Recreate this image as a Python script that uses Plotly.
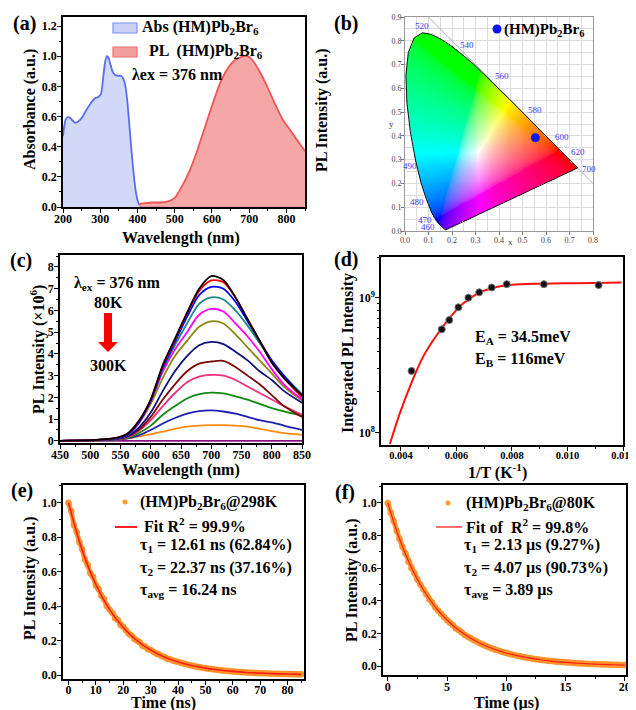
import numpy as np
import plotly.graph_objects as go

# reference-picture coordinates are used throughout; the page body adds an 8 px margin
W, H = 636, 710
OFF = 8
FW, FH = W - OFF, H - OFF
SERIF = "Liberation Serif"

# ---------------- data: panel (a) ----------------
ABS_WL = [200, 203, 207, 212, 216, 220, 225, 232, 240, 250, 262, 275, 285, 295, 302, 308, 313, 318, 322,
          327, 333, 340, 348, 356, 362, 367, 372, 377, 382, 387, 392, 397, 402, 408, 420, 440, 470]
ABS_VAL = [0.47, 0.53, 0.58, 0.595, 0.595, 0.59, 0.575, 0.56, 0.565, 0.59, 0.64, 0.69, 0.72, 0.73, 0.75,
           0.86, 0.96, 1.0, 0.99, 0.95, 0.9, 0.875, 0.87, 0.87, 0.85, 0.81, 0.72, 0.58, 0.43, 0.29, 0.17,
           0.08, 0.03, 0.005, 0.0, 0.0, 0.0]
PL_WL = [405, 420, 440, 460, 480, 500, 520, 540, 560, 580, 600, 620, 640, 660, 680, 695, 710, 730, 750,
         770, 790, 810, 830, 850]
PL_VAL = [0.02, 0.025, 0.03, 0.03, 0.035, 0.06, 0.14, 0.24, 0.37, 0.52, 0.67, 0.81, 0.91, 0.97, 0.995,
          1.0, 0.97, 0.89, 0.79, 0.68, 0.58, 0.51, 0.44, 0.37]

# ---------------- data: panel (b) CIE 1931 ----------------
LOCUS_WL = [380, 385, 390, 395, 400, 405, 410, 415, 420, 425, 430, 435, 440, 445, 450, 455, 460, 465, 470,
            475, 480, 485, 490, 495, 500, 505, 510, 515, 520, 525, 530, 535, 540, 545, 550, 555, 560, 565,
            570, 575, 580, 585, 590, 595, 600, 605, 610, 615, 620, 625, 630, 635, 640, 645, 650, 660, 670,
            680, 700]
LOCUS_X = [0.1741, 0.1740, 0.1738, 0.1736, 0.1733, 0.1730, 0.1726, 0.1721, 0.1714, 0.1703, 0.1689, 0.1669,
           0.1644, 0.1611, 0.1566, 0.1510, 0.1440, 0.1355, 0.1241, 0.1096, 0.0913, 0.0687, 0.0454, 0.0235,
           0.0082, 0.0039, 0.0139, 0.0389, 0.0743, 0.1142, 0.1547, 0.1929, 0.2296, 0.2658, 0.3016, 0.3373,
           0.3731, 0.4087, 0.4441, 0.4788, 0.5125, 0.5448, 0.5752, 0.6029, 0.6270, 0.6482, 0.6658, 0.6801,
           0.6915, 0.7006, 0.7079, 0.7140, 0.7190, 0.7230, 0.7260, 0.7300, 0.7320, 0.7334, 0.7347]
LOCUS_Y = [0.0050, 0.0050, 0.0049, 0.0049, 0.0048, 0.0048, 0.0048, 0.0048, 0.0051, 0.0058, 0.0069, 0.0086,
           0.0109, 0.0138, 0.0177, 0.0227, 0.0297, 0.0399, 0.0578, 0.0868, 0.1327, 0.2007, 0.2950, 0.4127,
           0.5384, 0.6548, 0.7502, 0.8120, 0.8338, 0.8262, 0.8059, 0.7816, 0.7543, 0.7243, 0.6923, 0.6589,
           0.6245, 0.5896, 0.5547, 0.5202, 0.4866, 0.4544, 0.4242, 0.3965, 0.3725, 0.3514, 0.3340, 0.3197,
           0.3083, 0.2993, 0.2920, 0.2859, 0.2809, 0.2770, 0.2740, 0.2700, 0.2680, 0.2666, 0.2653]
WL_LABELS = ["520", "540", "560", "580", "600", "620", "700", "500", "490", "480", "470", "460", "380"]
WL_LABEL_X = [0.071, 0.263, 0.412, 0.555, 0.670, 0.735, 0.785, -0.038, 0.021, 0.050, 0.085, 0.099, 0.217]
WL_LABEL_Y = [0.862, 0.782, 0.652, 0.509, 0.394, 0.331, 0.260, 0.534, 0.275, 0.120, 0.046, 0.016, -0.004]
DIAG_X = [0.1, 0.8]
DIAG_Y = [0.9, 0.2]
CIE_PT_X = [0.555]
CIE_PT_Y = [0.392]

# ---------------- data: panel (c) ----------------
C_WL = [450, 500, 540, 560, 580, 600, 620, 640, 660, 680, 700, 720, 740, 760, 780, 800, 820, 850]
C_S1 = [0, 0.03, 0.12, 0.3, 0.9, 1.9, 3.5, 4.7, 5.9, 7.0, 7.58, 7.4, 6.6, 5.6, 4.6, 3.6, 2.9, 2.1]
C_S2 = [0, 0.03, 0.12, 0.3, 0.9, 1.9, 3.45, 4.65, 5.85, 6.9, 7.38, 7.3, 6.6, 5.6, 4.6, 3.6, 2.9, 2.0]
C_S3 = [0, 0.03, 0.1, 0.25, 0.85, 1.85, 3.35, 4.55, 5.7, 6.7, 7.08, 7.0, 6.4, 5.5, 4.6, 3.7, 3.0, 2.05]
C_S4 = [0, 0.03, 0.1, 0.25, 0.85, 1.85, 3.3, 4.4, 5.4, 6.3, 6.6, 6.5, 6.0, 5.3, 4.5, 3.7, 3.0, 2.15]
C_S5 = [0, 0.03, 0.1, 0.25, 0.8, 1.8, 3.2, 4.2, 5.0, 5.8, 6.07, 5.95, 5.4, 4.8, 4.1, 3.3, 2.6, 1.9]
C_S6 = [0, 0.03, 0.1, 0.25, 0.8, 1.7, 2.9, 3.9, 4.6, 5.25, 5.5, 5.4, 4.9, 4.3, 3.7, 3.1, 2.5, 1.85]
C_S7 = [0, 0.02, 0.08, 0.2, 0.6, 1.3, 2.3, 3.2, 3.9, 4.4, 4.55, 4.45, 4.1, 3.7, 3.2, 2.8, 2.3, 1.75]
C_S8 = [0, 0.02, 0.08, 0.18, 0.5, 1.1, 1.9, 2.6, 3.2, 3.55, 3.65, 3.68, 3.4, 3.0, 2.6, 2.1, 1.6, 1.1]
C_S9 = [0, 0.02, 0.08, 0.15, 0.45, 0.95, 1.6, 2.2, 2.7, 2.95, 3.03, 3.0, 2.8, 2.5, 2.2, 1.9, 1.6, 1.2]
C_S10 = [0, 0.02, 0.06, 0.12, 0.35, 0.7, 1.2, 1.6, 1.95, 2.15, 2.22, 2.18, 2.05, 1.9, 1.7, 1.5, 1.35, 1.15]
C_S11 = [0, 0.02, 0.05, 0.1, 0.25, 0.5, 0.8, 1.05, 1.25, 1.37, 1.4, 1.35, 1.25, 1.1, 0.95, 0.85, 0.7, 0.5]
C_S12 = [0, 0.02, 0.05, 0.1, 0.2, 0.3, 0.42, 0.55, 0.65, 0.7, 0.72, 0.72, 0.7, 0.65, 0.55, 0.45, 0.35, 0.28]
C_S13 = [0] * 18
C_SERIES = [C_S1, C_S2, C_S3, C_S4, C_S5, C_S6, C_S7, C_S8, C_S9, C_S10, C_S11, C_S12, C_S13]
C_COLORS = ["#000000", "#ff0000", "#0000ff", "#1a8a8a", "#ff00ff", "#8a8a10", "#10107a", "#7a0a0a",
            "#f0307a", "#108a10", "#2020b0", "#ff8a10", "#8a108a"]

# ---------------- data: panel (d) ----------------
D_X = [0.00438, 0.00547, 0.00574, 0.00607, 0.00643, 0.00682, 0.00727, 0.00781, 0.00915, 0.01112]
D_Y = [2.86e8, 5.82e8, 6.82e8, 8.49e8, 1.0e9, 1.096e9, 1.19e9, 1.26e9, 1.26e9, 1.24e9]
D_FIT_X = [0.00360, 0.00396, 0.00432, 0.00480, 0.00529, 0.00577, 0.00625, 0.00673, 0.00733, 0.00793,
           0.00913, 0.01033, 0.01195]
D_FIT_Y = [8.2e7, 1.39e8, 2.18e8, 3.65e8, 5.28e8, 7.14e8, 9.08e8, 1.064e9, 1.186e9, 1.242e9, 1.27e9,
           1.28e9, 1.294e9]

# ---------------- data: panel (e) ----------------
E_T = list(range(0, 86))
E_VAL = [1.00, 0.95, 0.87, 0.83, 0.77, 0.73, 0.67, 0.64, 0.59, 0.57, 0.52, 0.50, 0.46, 0.44, 0.40, 0.38,
         0.36, 0.33, 0.32, 0.29, 0.28, 0.26, 0.24, 0.23, 0.21, 0.20, 0.19, 0.17, 0.165, 0.15, 0.145, 0.135,
         0.125, 0.12, 0.11, 0.105, 0.095, 0.092, 0.085, 0.08, 0.077, 0.071, 0.067, 0.063, 0.058, 0.055,
         0.051, 0.048, 0.045, 0.042, 0.040, 0.037, 0.035, 0.033, 0.031, 0.029, 0.027, 0.025, 0.024, 0.022,
         0.021, 0.019, 0.018, 0.017, 0.016, 0.015, 0.014, 0.013, 0.012, 0.012, 0.011, 0.010, 0.010, 0.009,
         0.008, 0.008, 0.007, 0.007, 0.006, 0.006, 0.006, 0.005, 0.005, 0.005, 0.004, 0.004]
E_FIT_T = [0, 5, 10, 15, 20, 25, 30, 35, 40, 45, 50, 55, 60, 65, 70, 75, 80, 85]
E_FIT_VAL = [1.0, 0.725, 0.525, 0.38, 0.276, 0.20, 0.145, 0.105, 0.076, 0.055, 0.040, 0.029, 0.021, 0.015,
             0.011, 0.008, 0.006, 0.004]

# ---------------- data: panel (f) ----------------
F_T = [i * 0.25 for i in range(81)]
F_VAL = [1.00, 0.94, 0.89, 0.83, 0.78, 0.73, 0.69, 0.64, 0.60, 0.57, 0.53, 0.50, 0.47, 0.44, 0.41, 0.39,
         0.36, 0.34, 0.32, 0.30, 0.28, 0.265, 0.25, 0.23, 0.22, 0.205, 0.19, 0.18, 0.17, 0.16, 0.15, 0.14,
         0.132, 0.124, 0.116, 0.109, 0.102, 0.096, 0.09, 0.085, 0.08, 0.075, 0.07, 0.066, 0.062, 0.058,
         0.054, 0.051, 0.048, 0.045, 0.042, 0.040, 0.037, 0.035, 0.033, 0.031, 0.029, 0.027, 0.025, 0.024,
         0.022, 0.021, 0.020, 0.018, 0.017, 0.016, 0.015, 0.014, 0.013, 0.013, 0.012, 0.011, 0.010, 0.010,
         0.009, 0.009, 0.008, 0.008, 0.007, 0.007, 0.006]
F_FIT_T = list(range(0, 21))
F_FIT_VAL = [1.0, 0.777, 0.603, 0.468, 0.363, 0.282, 0.219, 0.170, 0.132, 0.103, 0.080, 0.062, 0.048,
             0.037, 0.029, 0.022, 0.017, 0.013, 0.010, 0.008, 0.006]


def PX(x):
    return (x - OFF) / FW


def PY(y):
    return 1 - (y - OFF) / FH


def dom_x(a, b):
    return [PX(a), PX(b)]


def dom_y(top, bottom):
    return [PY(bottom), PY(top)]


def axis(domain, rng, dtick, mdtick, anchor, tick0=0, fmt=None, size=12, standoff=-2, **kw):
    d = dict(domain=domain, range=rng, dtick=dtick, tick0=tick0, showline=True, linecolor="black",
             linewidth=1.5, mirror=True, ticks="outside", ticklen=4, tickwidth=1.2, tickcolor="black",
             minor=dict(ticks="outside", ticklen=2, dtick=mdtick, tickcolor="black", tickwidth=1),
             tickfont=dict(family=SERIF, size=size, color="black", weight="bold"),
             ticklabelstandoff=standoff,
             showgrid=False, zeroline=False, automargin=False, anchor=anchor)
    if fmt:
        d["tickformat"] = fmt
    d.update(kw)
    return d


fig = go.Figure()

# ---- (a)
fig.add_trace(go.Scatter(x=ABS_WL, y=ABS_VAL, mode="lines", fill="tozeroy", fillcolor="rgba(195,204,246,0.75)",
                         line=dict(color="#5a6cf2", width=1.8, shape="spline", smoothing=0.6),
                         xaxis="x", yaxis="y", showlegend=False, hoverinfo="skip"))
fig.add_trace(go.Scatter(x=PL_WL, y=PL_VAL, mode="lines", fill="tozeroy", fillcolor="rgba(243,150,150,0.85)",
                         line=dict(color="#f05555", width=1.8, shape="spline", smoothing=0.6),
                         xaxis="x", yaxis="y", showlegend=False, hoverinfo="skip"))

# ---- (b) CIE colour field
nx, ny, step = 200, 225, 0.004
gx = 0.002 + step * np.arange(nx)
gy = 0.002 + step * np.arange(ny)
GX, GY = np.meshgrid(gx, gy)
px_ = np.array(LOCUS_X + [LOCUS_X[0]])
py_ = np.array(LOCUS_Y + [LOCUS_Y[0]])
inside = np.zeros(GX.shape, dtype=bool)
for i in range(len(px_) - 1):
    x1, y1, x2, y2 = px_[i], py_[i], px_[i + 1], py_[i + 1]
    cond = ((y1 > GY) != (y2 > GY))
    xint = x1 + (GY - y1) * (x2 - x1) / ((y2 - y1) if y2 != y1 else 1e-12)
    inside ^= cond & (GX < xint)
Xc = GX / GY
Zc = (1 - GX - GY) / GY
R = 3.2406 * Xc - 1.5372 - 0.4986 * Zc
G = -0.9689 * Xc + 1.8758 + 0.0415 * Zc
B = 0.0557 * Xc - 0.2040 + 1.0570 * Zc
rgb = np.clip(np.stack([R, G, B], axis=-1), 0, None)
rgb = rgb / np.maximum(rgb.max(axis=-1, keepdims=True), 1e-9)
rgb = rgb ** (1 / 2.2)
img = np.zeros((ny, nx, 4), dtype=np.uint8)
img[..., :3] = (rgb * 255).astype(np.uint8)
img[..., 3] = np.where(inside, 255, 0)
fig.add_trace(go.Image(z=img, x0=0.002, dx=step, y0=0.002, dy=step, colormodel="rgba",
                       xaxis="x2", yaxis="y2", hoverinfo="skip"))
fig.add_trace(go.Scatter(x=DIAG_X, y=DIAG_Y, mode="lines", line=dict(color="#b0b0b0", width=1),
                         xaxis="x2", yaxis="y2", showlegend=False, hoverinfo="skip"))
fig.add_trace(go.Scatter(x=LOCUS_X + [LOCUS_X[0]], y=LOCUS_Y + [LOCUS_Y[0]], mode="lines",
                         line=dict(color="#111111", width=1), xaxis="x2", yaxis="y2",
                         showlegend=False, hoverinfo="skip"))
fig.add_trace(go.Scatter(x=CIE_PT_X, y=CIE_PT_Y, mode="markers", marker=dict(color="#0a14f0", size=9),
                         xaxis="x2", yaxis="y2", showlegend=False, hoverinfo="skip"))

# ---- (c)
for s, col in zip(C_SERIES[::-1], C_COLORS[::-1]):
    fig.add_trace(go.Scatter(x=C_WL, y=s, mode="lines", line=dict(color=col, width=1.8, shape="spline",
                             smoothing=0.8), xaxis="x3", yaxis="y3", showlegend=False, hoverinfo="skip"))

# ---- (d)
fig.add_trace(go.Scatter(x=D_FIT_X, y=D_FIT_Y, mode="lines", line=dict(color="#ff1010", width=2, shape="spline"),
                         xaxis="x4", yaxis="y4", showlegend=False, hoverinfo="skip"))
fig.add_trace(go.Scatter(x=D_X, y=D_Y, mode="markers",
                         marker=dict(color="#111111", size=7, line=dict(color="#777777", width=1)),
                         xaxis="x4", yaxis="y4", showlegend=False, hoverinfo="skip"))

# ---- (e)
fig.add_trace(go.Scatter(x=E_T, y=E_VAL, mode="lines+markers", line=dict(color="#ff9a30", width=5),
                         marker=dict(color="#ff9a30", size=6, line=dict(color="#f08010", width=0.5)),
                         xaxis="x5", yaxis="y5", showlegend=False, hoverinfo="skip"))
fig.add_trace(go.Scatter(x=E_FIT_T, y=E_FIT_VAL, mode="lines", line=dict(color="#ff1a1a", width=1.6, shape="spline"),
                         xaxis="x5", yaxis="y5", showlegend=False, hoverinfo="skip"))

# ---- (f)
fig.add_trace(go.Scatter(x=F_T, y=F_VAL, mode="lines+markers", line=dict(color="#ff9a30", width=5),
                         marker=dict(color="#ff9a30", size=6, line=dict(color="#f08010", width=0.5)),
                         xaxis="x6", yaxis="y6", showlegend=False, hoverinfo="skip"))
fig.add_trace(go.Scatter(x=F_FIT_T, y=F_FIT_VAL, mode="lines", line=dict(color="#ff1a1a", width=1.2, shape="spline"),
                         xaxis="x6", yaxis="y6", showlegend=False, hoverinfo="skip"))

cie_common = dict(dtick=0.1, tick0=0, tickformat=".1f", showline=True, linecolor="#999999", linewidth=1,
                  mirror=True, ticks="outside", ticklen=3, tickcolor="#777777", showgrid=True,
                  gridcolor="#dcdcdc", gridwidth=1,
                  minor=dict(dtick=0.05, showgrid=True, gridcolor="#dcdcdc", ticks=""),
                  tickfont=dict(family=SERIF, size=8, color="#444444"), zeroline=False,
                  automargin=False, ticklabelstandoff=-2)

layout = dict(
    width=FW, height=FH, margin=dict(l=0, r=0, t=0, b=0), paper_bgcolor="white", plot_bgcolor="white",
    showlegend=False,
    xaxis=axis(dom_x(63, 305), [200, 850], 100, 50, "y", standoff=-4),
    yaxis=axis(dom_y(17, 207), [0, 1.26], 0.2, 0.1, "x", fmt=".1f"),
    yaxis7=dict(overlaying="y", side="right", range=[0, 1.26], showticklabels=False, ticks="",
                showline=False, showgrid=False, zeroline=False, anchor="x"),
    xaxis2=dict(domain=dom_x(405, 593), range=[0, 0.8], anchor="y2", **cie_common),
    yaxis2=dict(domain=dom_y(17, 231), range=[0, 0.9], anchor="x2", scaleanchor=False, **cie_common),
    xaxis3=axis(dom_x(60, 302), [450, 850], 50, 25, "y3", standoff=-4),
    yaxis3=axis(dom_y(255, 443), [-0.1, 8.55], 1, 0.5, "x3"),
    xaxis4=axis(dom_x(381, 623), [0.00328, 0.012], 0.002, 0.001, "y4", fmt=".3f", size=10.5, standoff=-4),
    yaxis4=axis(dom_y(257, 445), [7.906, 9.302], None, None, "x4", type="log",
                tickvals=[1e8, 1e9], ticktext=["10<sup>8</sup>", "10<sup>9</sup>"]),
    xaxis5=axis(dom_x(63, 304), [-2, 86], 10, 5, "y5", standoff=-5),
    yaxis5=axis(dom_y(485, 679), [-0.023, 1.103], 0.2, 0.1, "x5", fmt=".1f"),
    xaxis6=axis(dom_x(383, 626), [-0.4, 20.1], 5, 2.5, "y6", standoff=-4),
    yaxis6=axis(dom_y(485, 675), [-0.055, 1.11], 0.2, 0.1, "x6", fmt=".1f"),
)
layout["yaxis4"]["minor"] = dict(ticks="outside", ticklen=2, tickcolor="black",
                                 tickvals=[2e8, 3e8, 4e8, 5e8, 6e8, 7e8, 8e8, 9e8, 2e9])
layout["yaxis4"].pop("dtick")
fig.update_layout(**layout)

ann = []


def T(x, y, s, size=16, xa="left", ya="middle", angle=0, color="black", bold=True, family=SERIF):
    ann.append(dict(x=PX(x), y=PY(y), xref="paper", yref="paper", text=s, showarrow=False,
                    xanchor=xa, yanchor=ya, textangle=angle,
                    font=dict(family=family, size=size, color=color, weight="bold" if bold else "normal")))


# panel labels
T(24, 23, "(a)", 20, "center")
T(346, 23, "(b)", 20, "center")
T(21, 260, "(c)", 20, "center")
T(346, 259, "(d)", 20, "center")
T(22, 490, "(e)", 20, "center")
T(345, 492, "(f)", 20, "center")

# axis titles
T(30, 110, "Absorbance (a.u.)", 16, "center", angle=-90)
T(181, 238, "Wavelength (nm)", 16, "center")
T(322, 110, "PL Intensity (a.u.)", 16, "center", angle=-90)
T(391, 124, "y", 9, "center", bold=False, color="#333333")
T(510, 242, "x", 9, "center", bold=False, color="#333333")
T(37, 350, "PL Intensity (×10<sup>6</sup>)", 16, "center", angle=-90)
T(181, 470, "Wavelength (nm)", 16, "center")
T(348, 353, "Integrated PL Intensity", 16, "center", angle=-90)
T(497, 472, "1/T (K<sup>-1</sup>)", 16, "center")
T(30, 578, "PL Intensity (a.u.)", 16, "center", angle=-90)
T(163, 703, "Time (ns)", 16, "center")
T(352, 580, "PL Intensity (a.u.)", 16, "center", angle=-90)
T(506, 703, "Time (µs)", 16, "center")

# (a) legend
T(140, 28, "Abs (HM)Pb<sub>2</sub>Br<sub>6</sub>", 16)
T(147, 52, "PL  (HM)Pb<sub>2</sub>Br<sub>6</sub>", 16)
T(130, 74, "λex = 376 nm", 16)

# (b) wavelength labels + legend
for s, lx, ly in zip(WL_LABELS, WL_LABEL_X, WL_LABEL_Y):
    ann.append(dict(x=lx, y=ly, xref="x2", yref="y2", text=s, showarrow=False, xanchor="center",
                    yanchor="middle", font=dict(family=SERIF, size=9, color="#3a3aff")))
T(502, 30, "(HM)Pb<sub>2</sub>Br<sub>6</sub>", 15)

# (c)
T(72, 283, "λ<sub>ex</sub> = 376 nm", 16)
T(108, 302, "80K", 16, "center")
T(108, 365, "300K", 16, "center")

# (d)
T(473, 337, "E<sub>A</sub> = 34.5meV", 16)
T(473, 359, "E<sub>B</sub> = 116meV", 16)

# (e)
T(138, 502, "(HM)Pb<sub>2</sub>Br<sub>6</sub>@298K", 16)
T(142, 525, "Fit R<sup>2</sup> = 99.9%", 16)
T(138, 545, "τ<sub>1</sub> = 12.61 ns (62.84%)", 16)
T(138, 568, "τ<sub>2</sub> = 22.37 ns (37.16%)", 16)
T(138, 590, "τ<sub>avg</sub> = 16.24 ns", 16)

# (f)
T(464, 503, "(HM)Pb<sub>2</sub>Br<sub>6</sub>@80K", 16)
T(464, 526, "Fit of  R<sup>2</sup> = 99.8%", 16)
T(462, 545, "τ<sub>1</sub> = 2.13 µs (9.27%)", 16)
T(462, 568, "τ<sub>2</sub> = 4.07 µs (90.73%)", 16)
T(462, 590, "τ<sub>avg</sub> = 3.89 µs", 16)

shapes = []


def rect(x0, y0, x1, y1, fill, line):
    shapes.append(dict(type="rect", xref="paper", yref="paper", x0=PX(x0), x1=PX(x1), y0=PY(y1), y1=PY(y0),
                       fillcolor=fill, line=dict(color=line, width=1.2)))


def circle(cx, cy, r, fill):
    shapes.append(dict(type="circle", xref="paper", yref="paper", x0=PX(cx - r), x1=PX(cx + r),
                       y0=PY(cy + r), y1=PY(cy - r), fillcolor=fill, line=dict(color=fill, width=0)))


def hline(x0, x1, y, color, width):
    shapes.append(dict(type="line", xref="paper", yref="paper", x0=PX(x0), x1=PX(x1), y0=PY(y), y1=PY(y),
                       line=dict(color=color, width=width)))


rect(113, 23, 137, 33, "rgba(195,204,246,0.9)", "#8090f0")
rect(113, 47, 137, 57, "rgba(243,150,150,0.9)", "#f07070")
circle(497, 29, 4.5, "#0a14f0")
circle(125, 502, 2.5, "#ff9a30")
hline(115, 137, 527, "#ff2020", 2)
circle(448, 503, 2.5, "#ff9a30")
hline(436, 462, 527, "#ff2020", 1.3)

# red arrow in (c)
pts = [(104, 313), (112, 313), (112, 342), (118, 342), (108, 352), (98, 342), (104, 342)]
path = "M " + " L ".join(f"{PX(a):.5f},{PY(b):.5f}" for a, b in pts) + " Z"
shapes.append(dict(type="path", xref="paper", yref="paper", path=path, fillcolor="#ff0000",
                   line=dict(color="#ff0000", width=0)))

fig.update_layout(annotations=ann, shapes=shapes)
fig.write_html("out.html")
